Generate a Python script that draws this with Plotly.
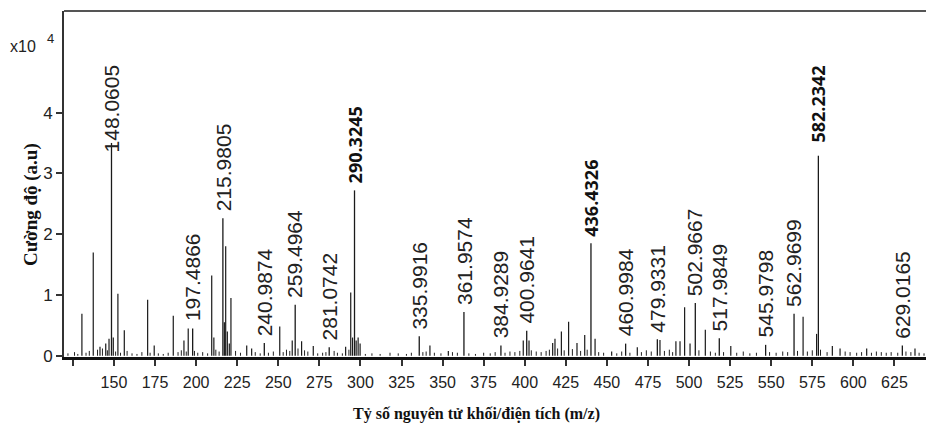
import plotly.graph_objects as go

# ---------------- data ----------------
# labelled peaks: position on m/z axis, intensity (x10^4), label text, bold flag
lab_mz = [148.5, 216.3, 296.4, 440.3, 578.7, 197.9, 241.5, 260.3, 281.0, 335.8,
          363.0, 385.5, 401.2, 461.4, 480.7, 503.8, 518.4, 546.6, 563.9, 629.8]
lab_int = [3.50, 2.26, 2.72, 1.85, 3.29, 0.45, 0.21, 0.84, 0.14, 0.32,
           0.72, 0.17, 0.41, 0.20, 0.27, 0.87, 0.29, 0.18, 0.69, 0.17]
lab_text = ["148.0605", "215.9805", "290.3245", "436.4326", "582.2342", "197.4866",
            "240.9874", "259.4964", "281.0742", "335.9916", "361.9574", "384.9289",
            "400.9641", "460.9984", "479.9331", "502.9667", "517.9849", "545.9798",
            "562.9699", "629.0165"]
lab_bold = [False, False, True, True, True, False, False, False, False, False,
            False, False, False, False, False, False, False, False, False, False]

# other visible peaks
peak_mz = [130.5, 137.4, 141.5, 145.0, 147.0, 149.6, 152.4, 156.3, 170.5, 174.5,
           186.1, 192.6, 195.2, 209.5, 210.8, 217.2, 218.0, 219.0, 220.2, 221.2,
           230.8, 233.8, 250.9, 258.5, 264.2, 271.3, 291.0, 294.1, 295.2, 297.4,
           298.6, 299.8, 342.3, 353.5, 399.1, 402.6, 417.0, 418.4, 422.3, 426.7,
           431.8, 436.5, 442.8, 452.9, 468.5, 482.3, 492.0, 494.5, 497.3, 500.6,
           509.9, 525.4, 569.4, 577.6, 587.2, 591.9, 608.1, 637.5]
peak_int = [0.69, 1.70, 0.15, 0.20, 0.28, 0.30, 1.02, 0.42, 0.92, 0.17,
            0.66, 0.25, 0.45, 1.32, 0.30, 0.55, 1.80, 0.40, 0.20, 0.95,
            0.17, 0.12, 0.48, 0.25, 0.24, 0.16, 0.15, 1.04, 0.30, 0.25,
            0.30, 0.20, 0.17, 0.08, 0.25, 0.25, 0.21, 0.28, 0.40, 0.56,
            0.21, 0.34, 0.28, 0.07, 0.14, 0.26, 0.24, 0.24, 0.80, 0.20,
            0.43, 0.16, 0.64, 0.36, 0.16, 0.12, 0.12, 0.12]

# low-level background peaks
noise_mz = [122, 126, 128, 133, 135, 140, 143, 146, 151, 154, 158, 161, 164, 167,
            172, 177, 180, 183, 189, 191, 194, 199, 201, 204, 207, 212, 214, 224,
            227, 236, 239, 244, 247, 253, 255, 257, 262, 266, 268, 274, 277, 279,
            284, 286, 289, 293, 303, 307, 312, 318, 323, 328, 331, 338, 340, 345,
            349, 356, 359, 366, 370, 375, 379, 382, 388, 391, 394, 397, 404, 407,
            410, 413, 415, 420, 424, 429, 434, 438, 445, 448, 456, 459, 464, 471,
            474, 477, 485, 488, 490, 506, 513, 516, 521, 529, 533, 537, 541, 549,
            553, 557, 560, 566, 572, 575, 580, 584, 595, 598, 602, 605, 611, 614,
            617, 620, 623, 627, 632, 635, 640, 643]
noise_int = [0.04, 0.06, 0.03, 0.05, 0.08, 0.10, 0.12, 0.09, 0.07, 0.05, 0.08, 0.04, 0.03, 0.06,
             0.05, 0.04, 0.03, 0.05, 0.06, 0.09, 0.07, 0.08, 0.05, 0.06, 0.04, 0.10, 0.07, 0.08,
             0.05, 0.06, 0.04, 0.05, 0.07, 0.06, 0.10, 0.08, 0.12, 0.09, 0.07, 0.04, 0.05, 0.06,
             0.08, 0.05, 0.04, 0.10, 0.03, 0.04, 0.03, 0.05, 0.04, 0.03, 0.05, 0.06, 0.07, 0.05,
             0.04, 0.06, 0.05, 0.04, 0.03, 0.05, 0.04, 0.06, 0.05, 0.07, 0.06, 0.08, 0.09, 0.07,
             0.06, 0.08, 0.10, 0.12, 0.09, 0.11, 0.08, 0.10, 0.06, 0.05, 0.04, 0.07, 0.05, 0.06,
             0.09, 0.07, 0.08, 0.10, 0.06, 0.09, 0.07, 0.05, 0.06, 0.05, 0.07, 0.04, 0.05, 0.06,
             0.05, 0.07, 0.06, 0.08, 0.07, 0.09, 0.10, 0.06, 0.07, 0.06, 0.05, 0.06, 0.05, 0.07,
             0.06, 0.05, 0.06, 0.05, 0.07, 0.06, 0.05, 0.04]

x_ticks = [125, 150, 175, 200, 225, 250, 275, 300, 325, 350, 375, 400, 425, 450,
           475, 500, 525, 550, 575, 600, 625]
x_tick_text = [""] + [str(v) for v in x_ticks[1:]]
y_ticks = [0, 1, 2, 3, 4]

# ---------------- geometry helpers ----------------
W, H = 926, 428
L, R, T, B = 64, 0, 11, 71
PW, PH = W - L - R, H - T - B


def px(xp):
    return (xp - L) / PW


def py(yp):
    return (H - B - yp) / PH


# ---------------- build stick spectrum ----------------
def sticks(xs, ys):
    sx, sy = [], []
    for a, b in zip(xs, ys):
        sx += [a, a, None]
        sy += [0, b, None]
    return sx, sy


fig = go.Figure()
nx, ny = sticks(noise_mz, noise_int)
fig.add_trace(go.Scatter(x=nx, y=ny, mode="lines", line=dict(color="#222222", width=1),
                         hoverinfo="skip", showlegend=False))
ox, oy = sticks(peak_mz, peak_int)
fig.add_trace(go.Scatter(x=ox, y=oy, mode="lines", line=dict(color="#1a1a1a", width=1.2),
                         hoverinfo="skip", showlegend=False))
lx, ly = sticks(lab_mz, lab_int)
fig.add_trace(go.Scatter(x=lx, y=ly, mode="lines", line=dict(color="#1a1a1a", width=1.3),
                         hoverinfo="skip", showlegend=False))

# peak labels
shift_override = {"148.0605": -10, "582.2342": 12}
for m, v, t, bold in zip(lab_mz, lab_int, lab_text, lab_bold):
    if bold:
        font = dict(family="Open Sans", size=18, color="#111111")
        text = "<b>" + t + "</b>"
    else:
        font = dict(family="Liberation Sans, Arial", size=21, color="#222222")
        text = t
    fig.add_annotation(x=m, y=v, xref="x", yref="y", text=text, showarrow=False,
                       textangle=-90, xanchor="center", yanchor="bottom",
                       yshift=shift_override.get(t, 6), font=font,
                       bgcolor="rgba(0,0,0,0)", borderpad=0)

# exponent label
fig.add_annotation(x=px(23), y=py(47), xref="paper", yref="paper", text="x10",
                   xanchor="center", yanchor="middle",
                   showarrow=False, font=dict(family="Liberation Sans, Arial", size=16, color="#222"))
fig.add_annotation(x=px(50), y=py(39), xref="paper", yref="paper", text="4",
                   xanchor="center", yanchor="middle",
                   showarrow=False, font=dict(family="Liberation Sans, Arial", size=13, color="#222"))

# axis titles
fig.add_annotation(x=px(476), y=py(414), xref="paper", yref="paper",
                   xanchor="center", yanchor="middle",
                   text="<b>Tỷ số nguyên tử khối/điện tích (m/z)</b>", showarrow=False,
                   font=dict(family="Liberation Serif, Times New Roman", size=16, color="#111"))
fig.add_annotation(x=px(31), y=py(205), xref="paper", yref="paper",
                   xanchor="center", yanchor="middle",
                   text="<b>Cường độ (a.u)</b>", showarrow=False, textangle=-90,
                   font=dict(family="Liberation Serif, Times New Roman", size=19, color="#111"))

fig.update_xaxes(range=[119.6, 644.2], tickmode="array", tickvals=x_ticks, ticktext=x_tick_text,
                 ticks="outside", ticklen=6, tickwidth=1.5, tickcolor="#333",
                 ticklabelstandoff=3,
                 showline=True, linecolor="#111", linewidth=2.5, mirror=False,
                 showgrid=False, zeroline=False,
                 tickfont=dict(family="Liberation Sans, Arial", size=16, color="#222"))
fig.update_yaxes(range=[-0.02, 5.67], tickmode="array", tickvals=y_ticks,
                 ticks="outside", ticklen=6, tickwidth=1.5, tickcolor="#333",
                 showline=True, linecolor="#333", linewidth=2,
                 showgrid=False, zeroline=False,
                 tickfont=dict(family="Liberation Sans, Arial", size=17, color="#222"))

# top frame line
fig.add_shape(type="line", xref="paper", yref="paper", x0=0, x1=1, y0=1, y1=1,
              line=dict(color="#555", width=2))

fig.update_layout(width=W, height=H, margin=dict(l=L, r=R, t=T, b=B),
                  paper_bgcolor="white", plot_bgcolor="white", showlegend=False)

fig.write_html("out.html")
